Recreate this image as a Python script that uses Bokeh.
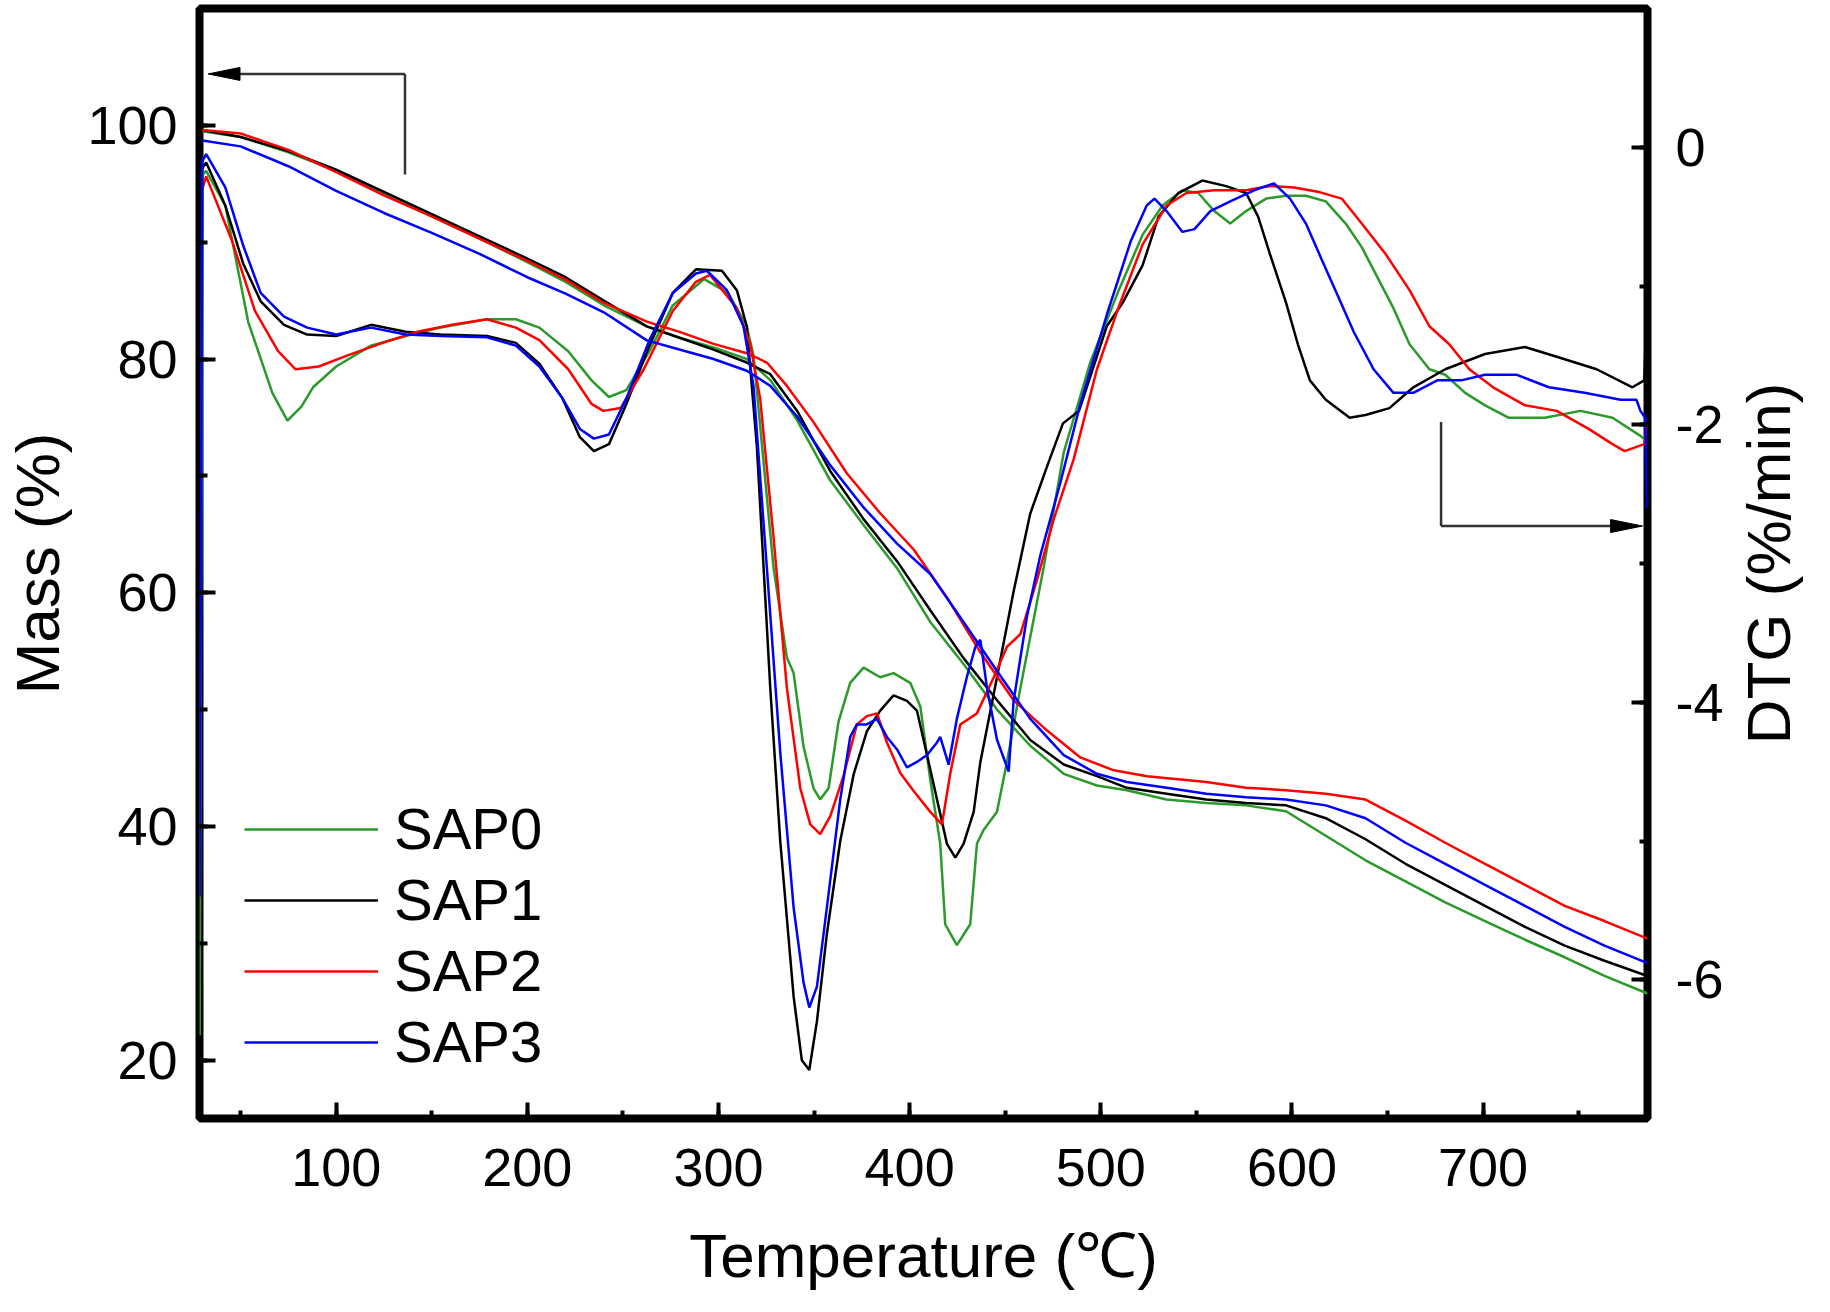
import math
from bokeh.plotting import figure
from bokeh.layouts import row
from bokeh.models import (Range1d, LinearAxis, SingleIntervalTicker, Legend, LegendItem,
                          PrintfTickFormatter)
from bokeh.core.properties import value
from bokeh.embed import file_html
from bokeh.resources import INLINE

# ---------------- data ----------------
series_names = ["SAP0", "SAP1", "SAP2", "SAP3"]
series_colors = ["#2a9a2a", "#000000", "#ff0000", "#0000ff"]

# TG (left axis, Mass %)
tg0_T = [30, 50, 75, 100, 125, 150, 175, 200, 220, 240, 262.5, 280, 297.4, 314.8, 327.1, 341.0, 358.5, 375.9, 393.4, 410.8,
         428.2, 445.7, 463.1, 480.6, 498.0, 513.6, 534.4, 555.2, 576.0, 596.9, 617.7, 638.5, 659.4, 680.2, 701.0, 721.9,
         742.7, 763.5, 786]
tg0_M = [99.5, 99.0, 97.7, 96.1, 94.1, 92.2, 90.3, 88.3, 86.6, 84.6, 82.8, 81.8, 81.0, 80.0, 78.2, 74.8, 69.6, 65.8, 62.1, 57.5,
         53.9, 50.0, 46.9, 44.5, 43.5, 43.1, 42.3, 42.0, 41.8, 41.3, 39.2, 37.1, 35.3, 33.5, 31.9, 30.3,
         28.8, 27.2, 25.7]

tg1_T = [30, 50, 75, 100, 125, 150, 175, 200, 220, 240, 262.5, 280, 297.4, 314.8, 327.1, 341.0, 358.5, 375.9, 393.4, 410.8,
         428.2, 445.7, 463.1, 480.6, 498.0, 513.6, 534.4, 555.2, 576.0, 596.9, 617.7, 638.5, 659.4, 680.2, 701.0, 721.9,
         742.7, 763.5, 786]
tg1_M = [99.6, 99.0, 97.8, 96.2, 94.3, 92.4, 90.5, 88.6, 87.0, 85.0, 82.8, 81.8, 80.8, 79.7, 78.7, 75.6, 70.4, 66.3, 62.7, 58.5,
         54.4, 50.8, 47.4, 45.3, 44.3, 43.3, 42.8, 42.3, 42.0, 41.8, 40.7, 38.9, 36.8, 35.0, 33.2, 31.4,
         29.8, 28.5, 27.2]

tg2_T = [30, 50, 75, 100, 125, 150, 175, 200, 220, 240, 262.5, 280, 297.4, 314.8, 325.3, 335.8, 349.7, 367.2, 384.6, 402.1,
         419.5, 437.0, 454.4, 471.9, 489.3, 506.8, 524.2, 555.2, 576.0, 596.9, 617.7, 638.5, 659.4, 680.2, 701.0, 721.9,
         742.7, 763.5, 786]
tg2_M = [99.6, 99.3, 97.9, 96.0, 94.0, 92.2, 90.3, 88.4, 86.8, 84.8, 83.2, 82.3, 81.3, 80.5, 79.7, 77.7, 74.6, 70.2, 66.8, 63.7,
         59.6, 54.9, 50.8, 48.2, 45.9, 44.8, 44.3, 43.8, 43.3, 43.1, 42.8, 42.3, 40.5, 38.6, 36.8, 35.0,
         33.2, 31.9, 30.4]

tg3_T = [30, 50, 75, 100, 125, 150, 175, 200, 220, 240, 262.5, 280, 297.4, 314.8, 327.1, 341.0, 358.5, 375.9, 393.4, 410.8,
         428.2, 445.7, 463.1, 480.6, 498.0, 513.6, 534.4, 555.2, 576.0, 596.9, 617.7, 638.5, 659.4, 680.2, 701.0, 721.9,
         742.7, 763.5, 786]
tg3_M = [98.7, 98.2, 96.5, 94.4, 92.5, 90.8, 89.0, 87.0, 85.6, 84.0, 81.6, 80.8, 80.0, 79.0, 77.7, 75.1, 70.9, 67.3, 64.2, 61.6,
         57.5, 53.3, 49.2, 46.1, 44.5, 43.8, 43.3, 42.8, 42.5, 42.3, 41.8, 40.7, 38.6, 36.8, 35.0, 33.2,
         31.4, 29.8, 28.3]

# DTG (right axis, %/min)
dtg0_T = [28.6, 30, 32, 42, 54, 66.6, 74.5, 81.8, 87.9, 100, 118.2, 136.4, 154.6, 178.9, 194, 206.3, 221.4, 233.6, 242.7, 251.8,
          263.9, 276.1, 288.2, 292.5, 305, 314.8, 318.3, 328.8, 335.8, 339.3, 344.5, 349.7, 353.2, 357.6, 362.8, 368.9, 375.9,
          384.6, 391.6, 400.3, 405.6, 410.8, 416.0, 418.6, 424.7, 431.7, 435.2, 438.7, 445.7, 450.9, 457.9, 470.1, 480.6,
          494.5, 509.4, 521.9, 532.3, 542.7, 551.0, 559.4, 567.7, 576.0, 586.5, 596.9, 607.3, 617.7, 628.1, 636.5, 644.8,
          653.1, 661.5, 671.9, 680.2, 690.6, 701.0, 713.5, 732.3, 751.0, 767.7, 782.3, 785.8]
dtg0_D = [-6.4, -0.2, -0.17, -0.42, -1.26, -1.77, -1.97, -1.87, -1.73, -1.58, -1.43, -1.36, -1.30, -1.24, -1.24, -1.30, -1.47, -1.68, -1.80, -1.75,
          -1.47, -1.14, -1.0, -0.95, -1.05, -1.29, -1.50, -3.03, -3.68, -3.79, -4.32, -4.62, -4.70, -4.62, -4.14, -3.86, -3.75,
          -3.82, -3.79, -3.86, -4.03, -4.56, -5.02, -5.60, -5.75, -5.60, -5.02, -4.92, -4.79, -4.43, -3.90, -3.03, -2.2,
          -1.55, -1.03, -0.63, -0.42, -0.31, -0.33, -0.46, -0.55, -0.46, -0.37, -0.35, -0.35, -0.39, -0.55, -0.72, -0.94,
          -1.16, -1.42, -1.60, -1.64, -1.77, -1.86, -1.95, -1.95, -1.90, -1.95, -2.08, -2.12]

dtg1_T = [30, 32, 42, 51.4, 60.5, 72.7, 84.8, 100, 118.2, 136.4, 154.6, 178.9, 194, 206.3, 218.4, 227.5, 234.8, 242.7, 251.8, 263.9,
          276.1, 288.2, 301.8, 309.6, 314.8, 320.1, 327.1, 332.3, 339.3, 343.6, 347.5, 351.5, 356.7, 363.7, 370.7, 377.6, 384.6,
          391.6, 398.6, 403.8, 409.1, 414.3, 419.5, 423.9, 428.2, 433.5, 437.0, 445.7, 454.4, 463.1, 471.9, 480.2, 488.6, 494.8,
          503.1, 511.5, 521.9, 530.2, 540.6, 553.1, 565.6, 576.0, 582.3, 588.5, 596.9, 603.1, 609.4, 617.7, 630.2, 638.5,
          651.0, 663.5, 680.2, 701.0, 721.9, 738.5, 759.4, 778.1, 784.3, 785.8]
dtg1_D = [-0.15, -0.11, -0.42, -0.84, -1.11, -1.28, -1.35, -1.36, -1.28, -1.33, -1.35, -1.36, -1.41, -1.56, -1.81, -2.09, -2.19, -2.14, -1.85, -1.43,
          -1.05, -0.88, -0.89, -1.03, -1.29, -2.16, -3.90, -5.00, -6.12, -6.58, -6.65, -6.30, -5.67, -5.00, -4.52, -4.21, -4.06,
          -3.95, -3.99, -4.06, -4.38, -4.70, -5.02, -5.12, -5.02, -4.79, -4.43, -3.82, -3.20, -2.64, -2.30, -1.99, -1.90, -1.64,
          -1.29, -1.12, -0.85, -0.50, -0.33, -0.24, -0.28, -0.33, -0.50, -0.77, -1.12, -1.42, -1.68, -1.82, -1.95, -1.93,
          -1.88, -1.73, -1.60, -1.49, -1.44, -1.51, -1.60, -1.73, -1.68, -1.1]

dtg2_T = [30, 32, 45.4, 57.5, 69.6, 78.7, 90.9, 106, 124.3, 142.5, 160.7, 178.9, 194, 206.3, 221.4, 233.6, 239.7, 248.8, 260.9, 276.1,
          288.2, 295.6, 309.6, 316.6, 321.8, 328.8, 335.8, 342.8, 348.0, 353.2, 358.5, 365.4, 372.4, 377.6, 382.9, 388.1, 395.1,
          402.1, 410.8, 416.9, 421.3, 426.5, 435.2, 444.0, 450.9, 457.9, 466.6, 475.4, 485.8, 498.0, 509.4, 521.9, 534.4, 544.8,
          559.4, 576.0, 588.5, 601.0, 613.5, 626.0, 636.5, 649.0, 661.5, 671.9, 682.3, 692.8, 705.2, 721.9, 738.5, 755.2,
          767.7, 774.0, 784.3, 785.8]
dtg2_D = [-0.3, -0.21, -0.67, -1.18, -1.47, -1.60, -1.58, -1.50, -1.41, -1.33, -1.28, -1.24, -1.30, -1.39, -1.60, -1.85, -1.90, -1.88, -1.60, -1.18,
          -0.97, -0.92, -1.16, -1.42, -1.81, -2.81, -3.90, -4.62, -4.88, -4.95, -4.82, -4.53, -4.16, -4.10, -4.08, -4.29, -4.51,
          -4.64, -4.79, -4.88, -4.51, -4.16, -4.08, -3.82, -3.60, -3.51, -3.12, -2.68, -2.25, -1.6, -1.15, -0.7, -0.42, -0.33,
          -0.31, -0.31, -0.28, -0.29, -0.32, -0.37, -0.55, -0.77, -1.03, -1.29, -1.42, -1.60, -1.73, -1.86, -1.90, -2.03,
          -2.14, -2.19, -2.14, -2.0]

dtg3_T = [28.6, 30, 32, 42, 51.4, 60.5, 72.7, 84.8, 100, 118.2, 136.4, 154.6, 178.9, 194, 206.3, 218.4, 227.5, 234.8, 242.7, 251.8,
          263.9, 276.1, 288.2, 293.9, 304.4, 313.1, 318.3, 325.3, 332.3, 339.3, 344.5, 347.5, 351.5, 356.7, 363.7, 368.9, 372.4,
          377.6, 382.9, 388.1, 393.4, 398.6, 403.8, 409.1, 414.3, 416.0, 420.4, 424.7, 429.9, 434.4, 437.0, 440.5, 445.7, 451.8,
          454.4, 461.4, 468.4, 478.8, 489.3, 503.3, 515.6, 524.0, 528.1, 534.4, 542.7, 549.0, 557.3, 567.7, 580.2, 590.6,
          599.0, 607.3, 615.6, 624.0, 632.3, 642.7, 653.1, 663.5, 676.0, 688.5, 701.0, 717.7, 734.4, 753.1, 771.9, 780.2,
          782.3, 784.8, 785.8]
dtg3_D = [-5.4, -0.1, -0.05, -0.29, -0.71, -1.05, -1.22, -1.30, -1.35, -1.30, -1.35, -1.36, -1.37, -1.43, -1.58, -1.81, -2.03, -2.10, -2.07, -1.81,
          -1.39, -1.05, -0.91, -0.89, -1.03, -1.29, -1.72, -3.03, -4.36, -5.48, -6.02, -6.20, -6.05, -5.48, -4.70, -4.25, -4.16,
          -4.16, -4.12, -4.25, -4.34, -4.47, -4.43, -4.38, -4.29, -4.25, -4.45, -4.12, -3.82, -3.60, -3.55, -3.90, -4.27, -4.50,
          -3.99, -3.38, -2.94, -2.42, -1.85, -1.20, -0.68, -0.42, -0.37, -0.46, -0.61, -0.59, -0.46, -0.39, -0.31, -0.26,
          -0.37, -0.55, -0.81, -1.07, -1.33, -1.60, -1.77, -1.77, -1.68, -1.68, -1.64, -1.64, -1.73, -1.77, -1.82, -1.82,
          -1.90, -1.95, -2.6]

tg_T = [tg0_T, tg1_T, tg2_T, tg3_T]
tg_M = [tg0_M, tg1_M, tg2_M, tg3_M]
dtg_T = [dtg0_T, dtg1_T, dtg2_T, dtg3_T]
dtg_D = [dtg0_D, dtg1_D, dtg2_D, dtg3_D]

x_ticks_interval = 100
mass_ticks_interval = 20
dtg_ticks_interval = 2

# ---------------- main figure ----------------
FONT = "Liberation Sans"
X0, X1 = 28.5, 786
M0, M1 = 15, 110
D0, D1 = -7, 1

W, H = 1726, 1296
B_LEFT, B_RIGHT, B_TOP, B_BOTTOM = 195, 79, 8, 178
frame_w_px = W - B_LEFT - B_RIGHT
frame_h_px = H - B_TOP - B_BOTTOM

p = figure(width=W, height=H, output_backend="svg", toolbar_location=None,
           x_range=Range1d(X0, X1), y_range=Range1d(M0, M1),
           min_border_left=B_LEFT, min_border_right=B_RIGHT, min_border_top=B_TOP, min_border_bottom=B_BOTTOM)
p.extra_y_ranges = {"dtg": Range1d(D0, D1)}
p.xgrid.grid_line_color = None
p.ygrid.grid_line_color = None
p.background_fill_color = "white"
p.border_fill_color = "white"
p.outline_line_color = "black"
p.outline_line_width = 8
p.outline_line_alpha = 1.0

right_axis = LinearAxis(y_range_name="dtg")
p.add_layout(right_axis, "right")

p.xaxis.ticker = SingleIntervalTicker(interval=x_ticks_interval, num_minor_ticks=2)
p.yaxis[0].ticker = SingleIntervalTicker(interval=mass_ticks_interval, num_minor_ticks=2)
right_axis.ticker = SingleIntervalTicker(interval=dtg_ticks_interval, num_minor_ticks=2)
right_axis.formatter = PrintfTickFormatter(format="%d")

p.xaxis.axis_label = "Temperature (℃)"
p.yaxis[0].axis_label = "Mass (%)"

for ax in [p.xaxis[0], p.yaxis[0], right_axis]:
    ax.axis_line_color = None
    ax.major_tick_in = 16
    ax.major_tick_out = 0
    ax.minor_tick_in = 8
    ax.minor_tick_out = 0
    ax.major_tick_line_width = 4
    ax.minor_tick_line_width = 4
    ax.major_tick_line_color = "black"
    ax.minor_tick_line_color = "black"
    ax.major_label_text_font = FONT
    ax.major_label_text_font_size = "54px"
    ax.major_label_text_color = "black"
    ax.axis_label_text_font = FONT
    ax.axis_label_text_font_size = "62px"
    ax.axis_label_text_font_style = "normal"
    ax.axis_label_text_color = "black"

p.xaxis[0].major_label_standoff = 30
p.xaxis[0].axis_label_standoff = 32
p.yaxis[0].major_label_standoff = 22
p.yaxis[0].axis_label_standoff = 12
right_axis.major_label_standoff = 28

# ---------------- curves ----------------
legend_items = []
for name, color, tT, tM, dT, dD in zip(series_names, series_colors, tg_T, tg_M, dtg_T, dtg_D):
    r_tg = p.line(tT, tM, line_color=color, line_width=2.5)
    p.line(dT, dD, line_color=color, line_width=2.5, y_range_name="dtg")
    legend_items.append(LegendItem(label=name, renderers=[r_tg]))

legend = Legend(items=legend_items, location=(45, 43),
                label_text_font=FONT, label_text_font_size="58px", label_text_color="black",
                glyph_width=134, glyph_height=64, label_height=64, spacing=4,
                label_standoff=16, padding=0, margin=0,
                border_line_color=None, background_fill_alpha=0)
p.add_layout(legend)

# ---------------- annotation arrows ----------------
px_x = (X1 - X0) / frame_w_px
px_m = (M1 - M0) / frame_h_px
px_d = (D1 - D0) / frame_h_px
head_len, head_half = 32, 6.5
arrow_color = "#333333"

# left arrow (points to the Mass axis)
la_x_corner, la_y_top, la_y_bottom, la_x_tip = 136, 104.4, 95.8, 33
p.line([la_x_corner, la_x_corner], [la_y_bottom, la_y_top], line_color=arrow_color, line_width=2.5)
p.line([la_x_corner, la_x_tip + head_len * px_x], [la_y_top, la_y_top], line_color=arrow_color, line_width=2.5)
p.patch([la_x_tip, la_x_tip + head_len * px_x, la_x_tip + head_len * px_x],
        [la_y_top, la_y_top + head_half * px_m, la_y_top - head_half * px_m],
        fill_color="black", line_color="black", line_width=1)

# right arrow (points to the DTG axis)
ra_x_corner, ra_y_top, ra_y_bottom, ra_x_tip = 678, -1.98, -2.73, 783.4
p.line([ra_x_corner, ra_x_corner], [ra_y_top, ra_y_bottom], line_color=arrow_color, line_width=2.5,
       y_range_name="dtg")
p.line([ra_x_corner, ra_x_tip - head_len * px_x], [ra_y_bottom, ra_y_bottom], line_color=arrow_color,
       line_width=2.5, y_range_name="dtg")
p.patch([ra_x_tip, ra_x_tip - head_len * px_x, ra_x_tip - head_len * px_x],
        [ra_y_bottom, ra_y_bottom + head_half * px_d, ra_y_bottom - head_half * px_d],
        fill_color="black", line_color="black", line_width=1, y_range_name="dtg")

# ---------------- right-hand title strip (DTG axis title, reading bottom-to-top) ----------------
p2 = figure(width=84, height=H, output_backend="svg", toolbar_location=None,
            x_range=Range1d(0, 1), y_range=Range1d(0, 1), x_axis_type=None, y_axis_type=None,
            min_border_left=0, min_border_right=0, min_border_top=B_TOP, min_border_bottom=B_BOTTOM)
p2.outline_line_color = None
p2.xgrid.grid_line_color = None
p2.ygrid.grid_line_color = None
p2.background_fill_color = "white"
p2.border_fill_color = "white"
p2.text(x=[0.5], y=[0.5], text=["DTG (%/min)"], angle=math.pi / 2,
        text_align="center", text_baseline="middle",
        text_font=value(FONT), text_font_size="62px", text_color="black")

layout = row(p, p2, spacing=0)
open("out.html", "w").write(file_html(layout, INLINE))
